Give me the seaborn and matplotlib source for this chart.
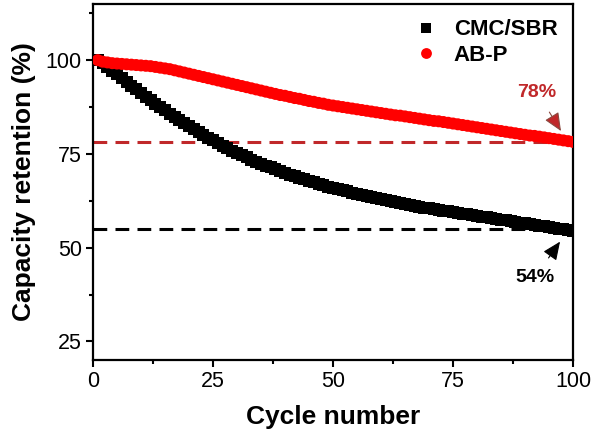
import numpy as np
import pandas as pd
import matplotlib
matplotlib.use("Agg")
import matplotlib.pyplot as plt
from matplotlib.ticker import MultipleLocator
import seaborn as sns

cycles = list(range(1, 101))
cmc_sbr = [100.0, 99.2, 98.2, 97.2, 96.2, 95.2, 94.2, 93.2, 92.2, 91.2,
           90.3, 89.3, 88.4, 87.5, 86.6, 85.7, 84.8, 84.0, 83.2, 82.4,
           81.6, 80.8, 80.0, 79.3, 78.6, 77.9, 77.2, 76.5, 75.9, 75.3,
           74.7, 74.1, 73.5, 72.9, 72.4, 71.9, 71.4, 70.9, 70.4, 69.9,
           69.5, 69.0, 68.6, 68.2, 67.8, 67.4, 67.0, 66.6, 66.3, 65.9,
           65.6, 65.3, 65.0, 64.7, 64.4, 64.1, 63.8, 63.5, 63.2, 62.9,
           62.6, 62.4, 62.1, 61.9, 61.6, 61.4, 61.1, 60.9, 60.7, 60.5,
           60.3, 60.1, 59.9, 59.7, 59.5, 59.3, 59.1, 58.9, 58.7, 58.5,
           58.3, 58.1, 57.9, 57.7, 57.5, 57.3, 57.1, 56.9, 56.7, 56.5,
           56.3, 56.1, 55.9, 55.7, 55.5, 55.3, 55.1, 54.9, 54.7, 54.5]
ab_p = [100.0, 99.6, 99.4, 99.2, 99.1, 99.0, 98.9, 98.8, 98.7, 98.6,
        98.5, 98.4, 98.2, 98.0, 97.8, 97.6, 97.3, 97.0, 96.7, 96.4,
        96.1, 95.8, 95.5, 95.2, 94.9, 94.6, 94.3, 94.0, 93.7, 93.4,
        93.1, 92.8, 92.5, 92.2, 91.9, 91.6, 91.3, 91.0, 90.7, 90.5,
        90.2, 89.9, 89.7, 89.4, 89.1, 88.9, 88.6, 88.4, 88.1, 87.9,
        87.7, 87.5, 87.3, 87.1, 86.9, 86.7, 86.5, 86.3, 86.1, 85.9,
        85.7, 85.5, 85.3, 85.2, 85.0, 84.8, 84.6, 84.4, 84.2, 84.0,
        83.8, 83.7, 83.5, 83.3, 83.1, 82.9, 82.7, 82.5, 82.3, 82.1,
        81.9, 81.7, 81.5, 81.3, 81.1, 80.9, 80.7, 80.5, 80.3, 80.1,
        79.9, 79.8, 79.6, 79.4, 79.2, 79.0, 78.8, 78.6, 78.4, 78.2]
series_names = ["CMC/SBR", "AB-P"]
ref_lines = [78.2, 55.0]
ann_labels = ["78%", "54%"]
x_ticks = [0, 25, 50, 75, 100]
y_ticks = [25, 50, 75, 100]

sns.set_style("ticks")
plt.rcParams['font.family'] = ['Liberation Sans', 'DejaVu Sans']
plt.rcParams['text.color'] = 'black'
plt.rcParams['axes.labelcolor'] = 'black'
plt.rcParams['xtick.color'] = 'black'
plt.rcParams['ytick.color'] = 'black'
plt.rcParams['axes.edgecolor'] = 'black'

df = pd.DataFrame({
    "cycle": cycles * 2,
    "ret": cmc_sbr + ab_p,
    "series": [series_names[0]] * len(cycles) + [series_names[1]] * len(cycles),
})

fig = plt.figure(figsize=(6.0, 4.36), dpi=100)
ax = fig.add_axes([0.155, 0.174, 0.80, 0.817])

red = "#ff0000"
dred = "#c0282a"

ax.axhline(ref_lines[0], color=dred, lw=2.2, ls=(0, (4.5, 2.7)), zorder=1)
ax.axhline(ref_lines[1], color="black", lw=2.2, ls=(0, (4.5, 2.7)), zorder=1)

sns.scatterplot(data=df, x="cycle", y="ret", hue="series", style="series",
                palette={series_names[0]: "black", series_names[1]: red},
                markers={series_names[0]: "s", series_names[1]: "o"},
                s=75, linewidth=0, ax=ax, zorder=3, legend=True)

ax.set_xlim(0, 100)
ax.set_ylim(20, 115)
ax.set_xticks(x_ticks)
ax.set_yticks(y_ticks)
ax.xaxis.set_minor_locator(MultipleLocator(12.5))
ax.yaxis.set_minor_locator(MultipleLocator(12.5))
ax.tick_params(axis="both", which="major", direction="out", length=5, width=1.5,
               labelsize=15.5, pad=3)
ax.tick_params(axis="both", which="minor", direction="out", length=3, width=1.5)
for sp in ax.spines.values():
    sp.set_linewidth(1.6)
    sp.set_visible(True)

ax.set_xlabel("Cycle number", fontsize=19, fontweight="bold", labelpad=9)
ax.set_ylabel("Capacity retention (%)", fontsize=19, fontweight="bold", labelpad=7)

ax.annotate(ann_labels[0], xy=(97.5, 81.1), xytext=(92.5, 91.5),
            ha="center", va="center", color=dred, fontsize=14, fontweight="bold",
            arrowprops=dict(arrowstyle="-|>,head_length=0.8,head_width=0.35",
                            fc=dred, ec="#8a4a40", lw=0.8,
                            shrinkA=7, shrinkB=0))
ax.annotate(ann_labels[1], xy=(97.3, 51.6), xytext=(92.0, 42.0),
            ha="center", va="center", color="black", fontsize=14, fontweight="bold",
            arrowprops=dict(arrowstyle="-|>,head_length=0.8,head_width=0.35",
                            color="black", lw=0.8, shrinkA=7, shrinkB=0))

leg = ax.legend(loc="upper right", frameon=False, fontsize=16,
                handletextpad=0.25, borderaxespad=0.4, labelspacing=0.2,
                markerscale=0.9, borderpad=0.3)
for t in leg.get_texts():
    t.set_fontweight("bold")

fig.savefig("out.png", dpi=100)
